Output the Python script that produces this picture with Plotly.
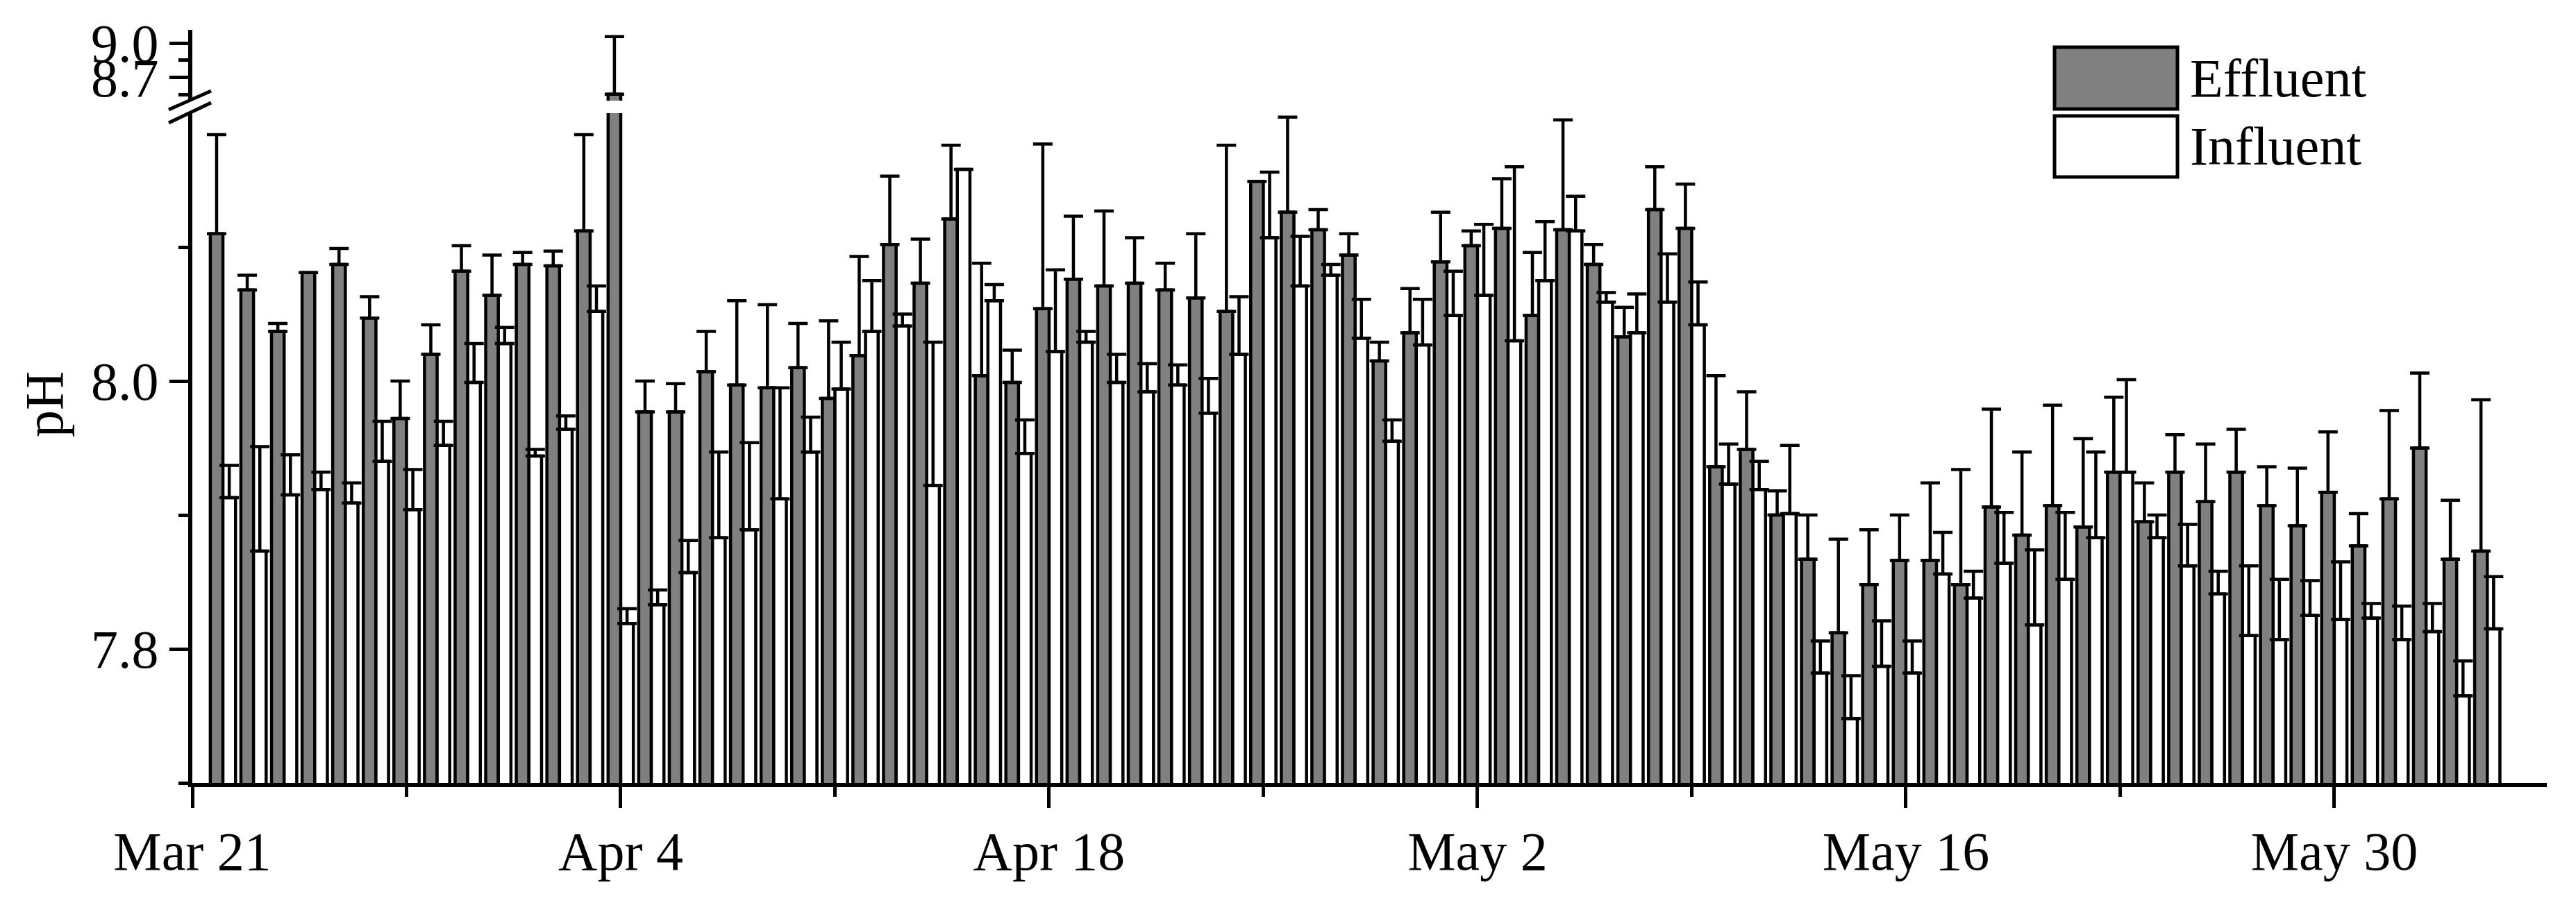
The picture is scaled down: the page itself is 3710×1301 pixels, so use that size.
import pandas as pd
import plotly.graph_objects as go

# ---------------- data ----------------
dates = pd.date_range("2016-03-22", periods=75, freq="D")

effluent = [
    8.110, 8.068, 8.037, 8.081, 8.087, 8.047, 7.972, 8.020, 8.082, 8.064,
    8.087, 8.086, 8.112, 8.556, 7.977, 7.977, 8.007, 7.997, 7.995, 8.010,
    7.987, 8.019, 8.102, 8.073, 8.121, 8.004, 7.999, 8.054, 8.076, 8.071,
    8.073, 8.068, 8.062, 8.052, 8.149, 8.126, 8.113, 8.094, 8.015, 8.036,
    8.089, 8.101, 8.114, 8.049, 8.113, 8.087, 8.033, 8.128, 8.114, 7.936,
    7.949, 7.900, 7.867, 7.812, 7.848, 7.866, 7.866, 7.848, 7.906, 7.885,
    7.907, 7.891, 7.932, 7.895, 7.932, 7.910, 7.932, 7.907, 7.892, 7.917,
    7.877, 7.912, 7.950, 7.867, 7.873]

effluent_err = [
    0.074, 0.011, 0.006, 0.000, 0.012, 0.016, 0.028, 0.022, 0.019, 0.030,
    0.009, 0.011, 0.072, 0.500, 0.023, 0.021, 0.030, 0.063, 0.062, 0.033,
    0.058, 0.074, 0.051, 0.033, 0.055, 0.084, 0.024, 0.123, 0.047, 0.056,
    0.034, 0.020, 0.048, 0.124, 0.000, 0.071, 0.015, 0.016, 0.014, 0.033,
    0.037, 0.011, 0.037, 0.047, 0.082, 0.015, 0.022, 0.032, 0.033, 0.068,
    0.043, 0.018, 0.033, 0.070, 0.041, 0.034, 0.058, 0.086, 0.073, 0.062,
    0.075, 0.066, 0.056, 0.029, 0.028, 0.043, 0.032, 0.029, 0.043, 0.045,
    0.024, 0.066, 0.056, 0.044, 0.113]

influent = [
    7.913, 7.873, 7.915, 7.919, 7.909, 7.940, 7.904, 7.952, 7.999, 8.028,
    7.944, 7.964, 8.052, 7.819, 7.833, 7.857, 7.883, 7.889, 7.912, 7.947,
    7.994, 8.037, 8.041, 7.922, 8.158, 8.060, 7.946, 8.022, 8.029, 7.999,
    7.992, 7.997, 7.976, 8.020, 8.107, 8.071, 8.079, 8.032, 7.955, 8.027,
    8.049, 8.064, 8.030, 8.075, 8.112, 8.059, 8.036, 8.059, 8.042, 7.923,
    7.919, 7.901, 7.782, 7.748, 7.787, 7.782, 7.856, 7.838, 7.864, 7.818,
    7.852, 7.883, 7.932, 7.883, 7.862, 7.841, 7.810, 7.807, 7.825, 7.822,
    7.823, 7.807, 7.813, 7.765, 7.815]

influent_err = [
    0.024, 0.078, 0.030, 0.013, 0.015, 0.030, 0.030, 0.018, 0.029, 0.012,
    0.005, 0.010, 0.019, 0.011, 0.011, 0.024, 0.064, 0.065, 0.083, 0.026,
    0.035, 0.038, 0.009, 0.107, 0.000, 0.012, 0.025, 0.061, 0.008, 0.021,
    0.021, 0.015, 0.026, 0.043, 0.049, 0.037, 0.008, 0.029, 0.016, 0.034,
    0.033, 0.053, 0.130, 0.044, 0.026, 0.007, 0.029, 0.036, 0.032, 0.030,
    0.021, 0.051, 0.024, 0.032, 0.034, 0.024, 0.031, 0.020, 0.038, 0.056,
    0.050, 0.064, 0.069, 0.017, 0.031, 0.017, 0.052, 0.045, 0.026, 0.043,
    0.011, 0.025, 0.021, 0.026, 0.039]

x_tick_dates = pd.date_range("2016-03-21", periods=6, freq="14D")
x_tick_labels = ["Mar 21", "Apr 4", "Apr 18", "May 2", "May 16", "May 30"]
x_minor_dates = pd.date_range("2016-03-28", periods=6, freq="14D")

low_ticks = [7.8, 8.0]
low_tick_labels = ["7.8", "8.0"]
low_minor = [7.7, 7.9, 8.1]
up_ticks = [8.7, 9.0]
up_tick_labels = ["8.7", "9.0"]
up_minor = [8.55, 8.85]

series_names = ["Effluent", "Influent"]

# ---------------- style / layout (screen pixel targets) ----------------
FONT = "Liberation Serif"
FS = 78
GRAY = "#808080"
OFF = 8                      # default page margin of the html body
W, H = 3710 - 2 * OFF, 1301 - 2 * OFF
# plot area on screen: left 277, right 3668, top 43, bottom 1128
S_L, S_R, S_T, S_B = 277, 3668, 43, 1128
ML, MT = S_L - OFF, S_T - OFF
MR = W - (S_R - OFF)
MB = H - (S_B - OFF)
PW = W - ML - MR
PH = H - MT - MB
PX_PER_DAY = 44.07


def px_x(X):
    return (X - S_L) / PW


def px_y(Y):
    return (S_B - Y) / PH


def errs(v):
    return [e if e > 0 else None for e in v]


x_start = pd.Timestamp("2016-03-21")
x_end = x_start + pd.Timedelta(days=PW / PX_PER_DAY)

fig = go.Figure()
specs = [(series_names[0], effluent, effluent_err, GRAY),
         (series_names[1], influent, influent_err, "white")]
for yax in ["y", "y2"]:
    for name, vals, er, col in specs:
        fig.add_trace(go.Bar(
            x=dates, y=vals, name=name, yaxis=yax, xaxis="x",
            marker=dict(color=col, line=dict(color="black", width=4.5)),
            error_y=dict(type="data", symmetric=False, array=errs(er),
                         arrayminus=[0] * len(er), color="black",
                         thickness=4.5, width=14),
            showlegend=False,
        ))

axis_common = dict(showline=True, linecolor="black", linewidth=6,
                   ticks="outside", tickwidth=5, tickcolor="black",
                   showgrid=False, zeroline=False,
                   tickfont=dict(family=FONT, size=FS, color="black"))


def minor(vals):
    return dict(tickmode="array", tickvals=vals, ticklen=14, tickwidth=5,
                tickcolor="black", ticks="outside", showgrid=False)


fig.update_layout(
    width=W, height=H,
    margin=dict(l=ML, r=MR, t=MT, b=MB),
    paper_bgcolor="white", plot_bgcolor="white",
    barmode="group", bargap=0.175, bargroupgap=0,
    font=dict(family=FONT, size=FS, color="black"),
    showlegend=False,
    xaxis=dict(type="date", range=[x_start, x_end], anchor="y",
               tickmode="array", tickvals=x_tick_dates, ticktext=x_tick_labels,
               ticklen=30, ticklabelstandoff=-5, minor=minor(x_minor_dates),
               **axis_common),
    yaxis=dict(domain=[0, px_y(163)], range=[7.7, 8.2], anchor="x",
               tickmode="array", tickvals=low_ticks, ticktext=low_tick_labels,
               ticklen=27, minor=minor(low_minor), **axis_common),
    yaxis2=dict(domain=[px_y(145), 1.0], range=[8.5, 9.115], anchor="x",
                tickmode="array", tickvals=up_ticks, ticktext=up_tick_labels,
                ticklen=27, minor=minor(up_minor), **axis_common),
)

# axis break marks
for (X0, Y0, X1, Y1) in [(243, 158, 304, 131), (243, 177, 304, 148)]:
    fig.add_shape(type="line", xref="paper", yref="paper",
                  x0=px_x(X0), y0=px_y(Y0), x1=px_x(X1), y1=px_y(Y1),
                  line=dict(color="black", width=5))

# y-axis title
fig.add_annotation(text="pH", xref="paper", yref="paper",
                   x=px_x(63), y=px_y(583), xanchor="center", yanchor="middle",
                   textangle=-90, showarrow=False,
                   font=dict(family=FONT, size=FS, color="black"))

# legend (drawn boxes + labels)
legend_rows = [(series_names[0], GRAY, 68, 157), (series_names[1], "white", 167, 255)]
for name, col, Yt, Yb in legend_rows:
    fig.add_shape(type="rect", xref="paper", yref="paper",
                  x0=px_x(2959), x1=px_x(3136), y0=px_y(Yb), y1=px_y(Yt),
                  fillcolor=col, line=dict(color="black", width=5))
    fig.add_annotation(text=name, xref="paper", yref="paper",
                       x=px_x(3152), y=px_y((Yt + Yb) / 2),
                       xanchor="left", yanchor="middle", showarrow=False,
                       font=dict(family=FONT, size=FS, color="black"))

fig.write_html("out.html")
